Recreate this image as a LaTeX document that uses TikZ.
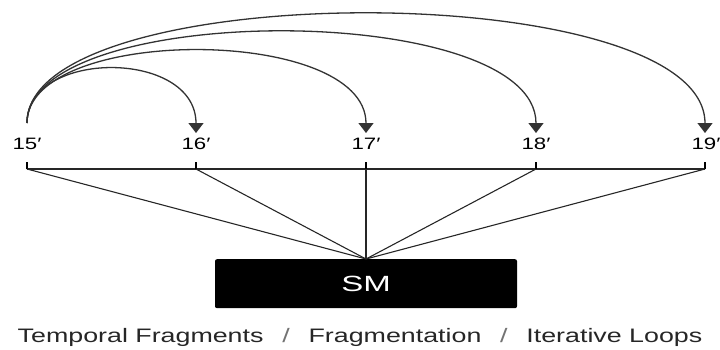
\documentclass[tikz,border=0pt]{standalone}
\usepackage{fontspec}
\setmainfont{Liberation Sans}
\usetikzlibrary{arrows.meta}
\newcommand{\wide}[2][1.35]{\scalebox{#1}[1]{#2}}
\begin{document}
\begin{tikzpicture}[x=1pt,y=-1pt,
  lbl/.style={inner sep=0pt, anchor=base, font=\fontsize{16.5}{17}\selectfont},
  loop/.style={line width=1.3pt, draw=black!80, -{Triangle[width=15pt,length=10pt]}},
  link/.style={line width=1.1pt, draw=black!85},
  tickmark/.style={line width=2.8pt, draw=black},
  smbox/.style={fill=black, rounded corners=2pt, minimum width=302pt, minimum height=49pt,
    inner sep=0pt, text=white, font=\fontsize{22}{23}\selectfont},
  caption/.style={inner sep=0pt, anchor=base, text=black!85, font=\fontsize{19.5}{20}\selectfont}]
\useasboundingbox (0,0) rectangle (720,349);

% time-point labels
\node[lbl] (l15) at (27,149)  {\wide{15′}};
\node[lbl] (l16) at (196,149) {\wide{16′}};
\node[lbl] (l17) at (366,149) {\wide{17′}};
\node[lbl] (l18) at (536,149) {\wide{18′}};
\node[lbl] (l19) at (706,149) {\wide{19′}};

% loop start and arrow tips
\coordinate (s)   at (27,123);
\coordinate (a16) at (196,133);
\coordinate (a17) at (366,133);
\coordinate (a18) at (536,133);
\coordinate (a19) at (705,133);

% tick positions on the time line
\coordinate (t15) at (27,169);
\coordinate (t16) at (196,169);
\coordinate (t17) at (366,169);
\coordinate (t18) at (536,169);
\coordinate (t19) at (705,169);

% central block
\node[smbox, anchor=north] (sm) at (366,259) {\wide[1.5]{SM}};

% caption
\node[caption] (cap) at (360,342)
  {\wide[1.375]{Temporal Fragments\hspace{0.7em}{\color{black!55}/}\hspace{0.7em}Fragmentation\hspace{0.7em}{\color{black!55}/}\hspace{0.7em}Iterative Loops}};

% loops from 15'
\draw[loop] (s) .. controls (27,49)  and (196,49)  .. (a16);
\draw[loop] (s) .. controls (27,25)  and (366,25)  .. (a17);
\draw[loop] (s) .. controls (27,0)   and (536,0)   .. (a18);
\draw[loop] (s) .. controls (27,-24) and (705,-24) .. (a19);

% time line and ticks
\draw[link] (t15) -- (t19);
\foreach \t in {t15,t16,t17,t18,t19}
  \draw[tickmark] (\t) -- ++(0,-7);

% links to the block
\foreach \t in {t15,t16,t17,t18,t19}
  \draw[link] (\t) -- (sm.north);
\end{tikzpicture}
\end{document}
